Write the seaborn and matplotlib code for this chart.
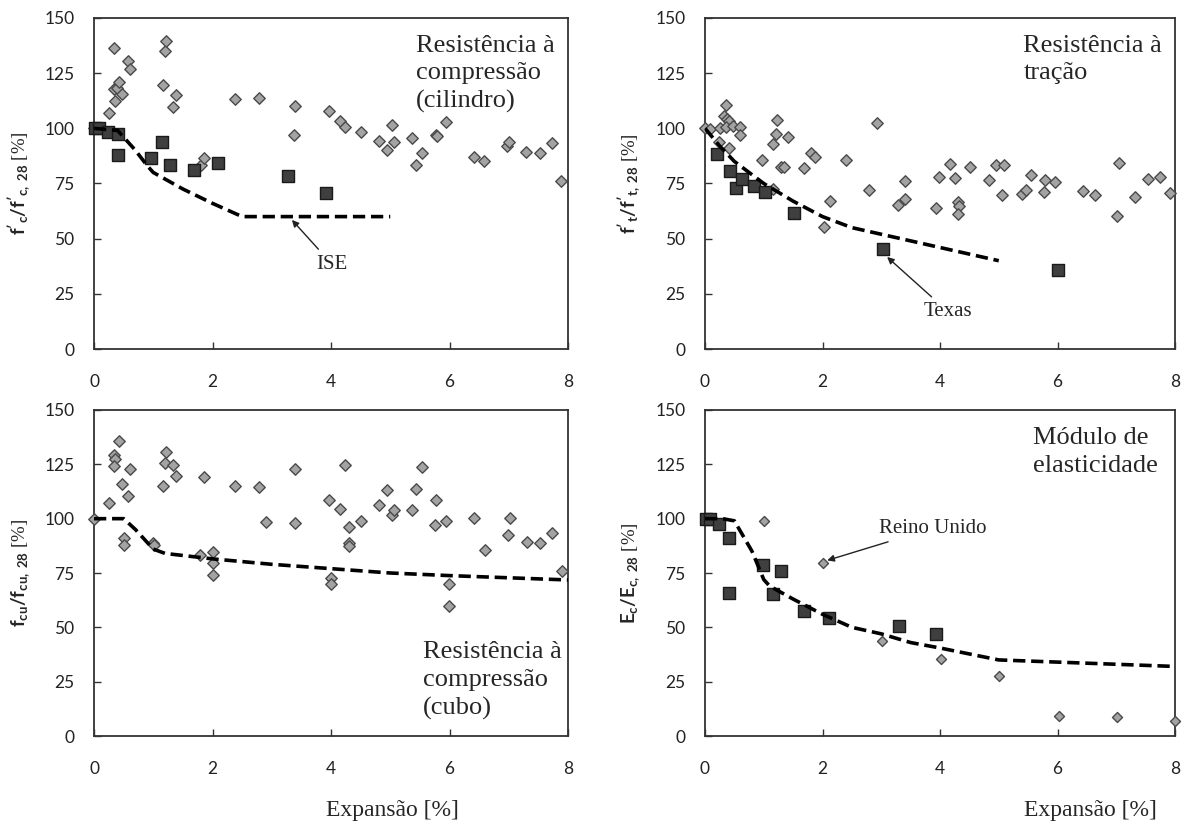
import matplotlib
matplotlib.use("Agg")
import matplotlib.pyplot as plt
import seaborn as sns
import pandas as pd

# ---------------- data ----------------
# Panel A: compressive strength (cylinder)
diam_x_a = [0, 0.26, 0.34, 0.33, 0.36, 0.39, 0.42, 0.48, 0.58, 0.60, 1.16, 1.20, 1.21, 1.33, 1.39,
            1.81, 1.86, 2.38, 2.78, 3.38, 3.39, 3.97, 4.15, 4.23, 4.50, 4.81, 4.95, 5.03, 5.07,
            5.37, 5.44, 5.53, 5.77, 5.79, 5.94, 6.41, 6.59, 6.97, 7.01, 7.29, 7.53, 7.73, 7.89]
diam_y_a = [100, 106.8, 136.6, 117.6, 112.5, 118.4, 120.8, 115.4, 130.6, 126.8, 119.6, 135.0, 139.5, 109.8, 115.2,
            83.2, 86.7, 113.3, 113.7, 97.2, 110.0, 108.0, 103.1, 100.5, 98.5, 94.2, 90.0, 101.7, 93.7,
            95.4, 83.5, 88.9, 96.9, 96.3, 102.8, 87.0, 85.3, 91.9, 93.9, 89.2, 88.6, 93.3, 76.0]
sq_x_a = [0.01, 0.08, 0.23, 0.41, 0.40, 0.97, 1.15, 1.28, 1.68, 2.10, 3.28, 3.92]
sq_y_a = [100, 100, 98.5, 97.5, 88.0, 86.5, 93.7, 83.2, 81.2, 84.2, 78.2, 70.6]
line_x_a = [0, 0.4, 0.7, 0.9, 1.0, 1.5, 2.0, 2.5, 5.0]
line_y_a = [100, 99, 90, 83, 80, 72.5, 66, 60, 60]

# Panel B: tensile strength
diam_x_b = [0, 0.08, 0.25, 0.35, 0.33, 0.37, 0.41, 0.35, 0.48, 0.59, 0.60, 0.23, 0.41, 0.97, 1.16,
            1.22, 1.21, 1.15, 1.30, 1.34, 1.41, 1.68, 1.80, 1.88, 2.03, 2.12, 2.40, 2.79, 2.92, 3.29,
            3.41, 3.40, 3.93, 3.98, 4.17, 4.25, 4.31, 4.32, 4.31, 4.51, 4.83, 4.96, 5.09, 5.06, 5.39,
            5.46, 5.55, 5.77, 5.79, 5.96, 6.44, 6.63, 7.02, 7.04, 7.32, 7.54, 7.75, 7.92]
diam_y_b = [100, 99.6, 100, 110.4, 105.6, 104.3, 103.4, 100.6, 101.1, 100.5, 97.2, 93.6, 91.0, 85.5, 92.8,
            103.8, 97.5, 72.7, 82.6, 82.6, 96.1, 81.8, 88.6, 87.1, 55.2, 67.2, 85.8, 72.1, 102.6, 65.1,
            68.2, 76.3, 63.8, 77.8, 83.9, 77.6, 66.6, 65.0, 61.4, 82.7, 76.6, 83.6, 83.2, 70.0, 70.3,
            72.1, 79.0, 71.3, 76.4, 75.7, 71.8, 69.7, 60.2, 84.4, 69.1, 76.9, 78.1, 70.9]
sq_x_b = [0.21, 0.42, 0.53, 0.63, 0.83, 1.02, 1.52, 3.03, 6.01]
sq_y_b = [88.3, 80.8, 72.8, 77.2, 74.0, 71.0, 61.5, 45.1, 36.0]
line_x_b = [0, 0.25, 0.5, 1, 1.5, 2, 2.5, 3, 4, 5]
line_y_b = [100, 92, 85, 75, 67, 60, 55, 52, 46, 40]

# Panel C: compressive strength (cube)
diam_x_c = [0, 0.26, 0.34, 0.36, 0.34, 0.42, 0.47, 0.57, 0.60, 0.51, 0.51, 1.00, 1.01, 1.16, 1.20,
            1.21, 1.34, 1.39, 1.79, 1.86, 2.01, 2.00, 2.00, 2.38, 2.78, 2.90, 3.39, 3.39, 3.97, 4.00,
            4.00, 4.15, 4.23, 4.30, 4.30, 4.31, 4.50, 4.81, 4.95, 5.03, 5.07, 5.37, 5.44, 5.53, 5.77,
            5.75, 5.94, 5.99, 5.99, 6.41, 6.60, 6.98, 7.02, 7.30, 7.52, 7.73, 7.90]
diam_y_c = [100, 107.3, 129.5, 127.3, 124.4, 135.6, 115.8, 110.3, 122.9, 91.1, 87.7, 88.9, 88.0, 115.2, 125.5,
            130.9, 124.5, 119.8, 83.5, 119.2, 84.8, 79.8, 74.2, 115.0, 114.4, 98.5, 122.9, 97.9, 108.5, 72.5,
            69.8, 104.5, 124.8, 96.2, 88.9, 87.4, 98.9, 106.1, 113.3, 101.9, 104.2, 104.2, 113.8, 124.0, 108.6,
            97.3, 98.8, 70.0, 60.0, 100.5, 85.8, 92.7, 100.5, 89.2, 88.6, 93.3, 76.1]
line_x_c = [0, 0.5, 0.7, 1.0, 1.2, 2, 3, 4, 5, 6, 7, 8]
line_y_c = [100, 100, 95, 86, 84, 81.5, 79, 77, 75, 73.8, 72.8, 71.8]

# Panel D: modulus of elasticity
sq_x_d = [0.01, 0.08, 0.23, 0.40, 0.41, 0.98, 1.15, 1.29, 1.69, 2.11, 3.30, 3.93]
sq_y_d = [100, 100, 97.7, 91.1, 66, 78.5, 65.4, 75.8, 57.4, 54.5, 50.6, 47.0]
diam_x_d = [1.01, 2.01, 3.02, 4.02, 5.01, 6.02, 7.01, 8.0]
diam_y_d = [98.9, 79.8, 43.8, 35.2, 27.8, 9.2, 8.9, 6.8]
line_x_d = [0, 0.3, 0.5, 0.8, 1.0, 1.1, 1.5, 2, 2.5, 3, 3.5, 4, 5, 6, 7, 8]
line_y_d = [100, 100, 99, 85, 72, 69, 63, 56, 50, 47, 43, 40.5, 35, 34, 33, 32]

x_ticks = [0, 2, 4, 6, 8]
y_ticks = [0, 25, 50, 75, 100, 125, 150]

titles = ["Resistência à\ncompressão\n(cilindro)", "Resistência à\ntração",
          "Resistência à\ncompressão\n(cubo)", "Módulo de\nelasticidade"]
ylabels = [r"$\mathbf{f'_{c}/f'_{c,\ 28}}$ [%]", r"$\mathbf{f'_{t}/f'_{t,\ 28}}$ [%]",
           r"$\mathbf{f_{cu}/f_{cu,\ 28}}$ [%]", r"$\mathbf{E_{c}/E_{c,\ 28}}$ [%]"]
xlabel = "Expansão [%]"

# ---------------- style ----------------
sns.set_style("ticks")
plt.rcParams["font.family"] = ["Lato", "DejaVu Sans"]
plt.rcParams["mathtext.fontset"] = "custom"
plt.rcParams["mathtext.rm"] = "Lato"
plt.rcParams["mathtext.bf"] = "Lato:bold"
plt.rcParams["mathtext.it"] = "Lato:italic"

SERIF = "Liberation Serif"
DIAM_FC = "#a3a3a3"
DIAM_EC = "#4a4a4a"
SQ_FC = "#3f3f3f"
SQ_EC = "#1a1a1a"

fig = plt.figure(figsize=(11.84, 8.22), dpi=100)
positions = [
    [94 / 1184, 1 - 349 / 822, (568 - 94) / 1184, (349 - 18) / 822],
    [705 / 1184, 1 - 349 / 822, (1175 - 705) / 1184, (349 - 18) / 822],
    [94 / 1184, 1 - 736 / 822, (568 - 94) / 1184, (736 - 410) / 822],
    [705 / 1184, 1 - 736 / 822, (1175 - 705) / 1184, (736 - 410) / 822],
]
axes = [fig.add_axes(p) for p in positions]


def scatter(ax, xs, ys, kind, size=None):
    df = pd.DataFrame({"x": xs, "y": ys})
    if kind == "d":
        sns.scatterplot(data=df, x="x", y="y", ax=ax, marker="D", s=size or 34,
                        color=DIAM_FC, edgecolor=DIAM_EC, linewidth=1.0, zorder=3, clip_on=False)
    else:
        sns.scatterplot(data=df, x="x", y="y", ax=ax, marker="s", s=size or 80,
                        color=SQ_FC, edgecolor=SQ_EC, linewidth=1.0, zorder=4, clip_on=False)


def dashed(ax, xs, ys):
    df = pd.DataFrame({"x": xs, "y": ys})
    sns.lineplot(data=df, x="x", y="y", ax=ax, color="black", linewidth=2.6,
                 linestyle=(0, (3.4, 1.6)), estimator=None, sort=False, zorder=5)


axA, axB, axC, axD = axes

scatter(axA, diam_x_a, diam_y_a, "d")
dashed(axA, line_x_a, line_y_a)
scatter(axA, sq_x_a, sq_y_a, "s")

scatter(axB, diam_x_b, diam_y_b, "d")
dashed(axB, line_x_b, line_y_b)
scatter(axB, sq_x_b, sq_y_b, "s")

dashed(axC, line_x_c, line_y_c)
scatter(axC, diam_x_c, diam_y_c, "d")

dashed(axD, line_x_d, line_y_d)
scatter(axD, diam_x_d, diam_y_d, "d", size=26)
scatter(axD, sq_x_d, sq_y_d, "s")

for i, ax in enumerate(axes):
    ax.set_xlim(0, 8)
    ax.set_ylim(0, 150)
    ax.set_xticks(x_ticks)
    ax.set_yticks(y_ticks)
    ax.tick_params(direction="in", length=5, width=1, colors="#333333",
                   labelsize=12.5, labelcolor="#222222")
    ax.tick_params(axis="x", pad=18)
    ax.tick_params(axis="y", pad=14)
    for sp in ax.spines.values():
        sp.set_visible(True)
        sp.set_color("#333333")
        sp.set_linewidth(1.3)
    ax.set_xlabel("")
    ax.set_ylabel(ylabels[i], fontsize=13.5, family=SERIF)
    ax.yaxis.set_label_coords(-0.131 if i % 2 == 0 else -0.134, 0.5)

# panel titles
tkw = dict(family=SERIF, fontsize=19, va="top", ha="left", linespacing=1.32)
axA.text(5.44, 142.5, titles[0], **tkw)
axB.text(5.42, 142.5, titles[1], **tkw)
axC.text(5.55, 43.5, titles[2], **tkw)
axD.text(5.59, 142, titles[3], **tkw)

arrow = dict(arrowstyle="-|>", color="#222222", lw=1.0, mutation_scale=10, shrinkA=2, shrinkB=0)
akw = dict(family=SERIF, fontsize=15, ha="left", va="center")
axA.annotate("ISE", xy=(3.34, 58.5), xytext=(3.75, 38.5), arrowprops=arrow, **akw)
axB.annotate("Texas", xy=(3.10, 41.7), xytext=(3.72, 17), arrowprops=arrow, **akw)
axD.annotate("Reino Unido", xy=(2.08, 80.8), xytext=(2.96, 95.6), arrowprops=arrow, **akw)

fig.text(392 / 1184, 1 - 810 / 822, xlabel, family=SERIF, fontsize=17, ha="center", va="center")
fig.text(1090 / 1184, 1 - 810 / 822, xlabel, family=SERIF, fontsize=17, ha="center", va="center")

fig.savefig("out.png", dpi=100)
